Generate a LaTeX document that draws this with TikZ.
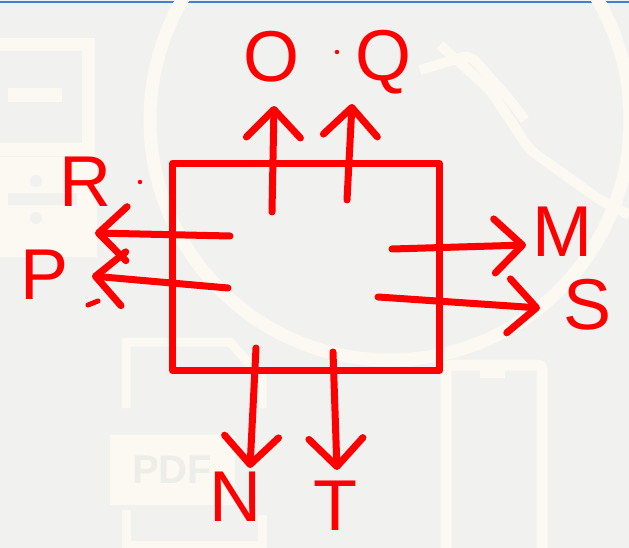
\documentclass[tikz,border=0pt]{standalone}
\usepackage{fontspec}
\setmainfont{Liberation Sans}
\usetikzlibrary{arrows.meta}
\definecolor{bg}{HTML}{F1F1EF}
\definecolor{wm}{HTML}{FBF9F1}
\definecolor{wmtext}{HTML}{EDEDEA}
\definecolor{ink}{HTML}{FF0000}
\definecolor{topline}{HTML}{4A7CCB}
\begin{document}
\begin{tikzpicture}[x=1pt,y=-1pt,
  inkline/.style={draw=ink, line width=7pt, line cap=round, line join=round},
  arr/.style={inkline, -{Straight Barb[length=28pt,width=54pt,round]}},
  lbl/.style={text=ink, font=\fontsize{72}{72}\selectfont, inner sep=0pt},
  wmark/.style={draw=wm, line width=13pt},
  wfill/.style={fill=wm, draw=none}]
% background and margins
\fill[bg] (0,0) rectangle (629,548);
\useasboundingbox (0,0) rectangle (629,548);
\draw[topline, line width=1.5pt] (0,2) -- (629,2);
% faint watermark
\draw[wmark] (390,120) circle[radius=240];
\draw[wmark] (-10,45) rectangle (88,150);
\fill[wm] (8,88) rectangle (62,102);
\fill[wm] (0,157) rectangle (97,257);
\fill[bg] (8,193) rectangle (77,205);
\fill[bg] (36,181) circle[radius=6];
\fill[bg] (36,218) circle[radius=6];
\draw[wmark, line width=9pt] (126,408) -- (126,342) -- (230,342) -- (262,378) -- (262,408);
\fill[wm] (110,435) rectangle (235,505);
\node[text=wmtext, font=\bfseries\fontsize{40}{40}\selectfont] (pdf) at (172,470) {PDF};
\draw[wmark, line width=9pt] (126,510) -- (126,545) -- (262,545) -- (262,515);
\draw[wmark, line width=11pt, rounded corners=4pt] (446,365) rectangle (542,560);
\fill[wm] (480,368) rectangle (505,378);
\draw[wmark, line width=10pt, rounded corners=8pt] (440,45) -- (490,90) -- (530,150) -- (600,200) -- (629,215);
\draw[wmark, line width=10pt, rounded corners=8pt] (420,70) -- (470,55) -- (510,100) -- (525,120);
% box
\node[inkline, draw, rectangle, minimum width=267pt, minimum height=207pt, inner sep=0pt] (box) at (306,267) {};
% arrows
\coordinate (o0) at (272,212); \coordinate (o1) at (274,106);
\coordinate (q0) at (347,200); \coordinate (q1) at (352,104);
\coordinate (r0) at (230,236); \coordinate (r1) at (95,233);
\coordinate (p0) at (228,288); \coordinate (p1) at (92,276);
\coordinate (m0) at (392,249); \coordinate (m1) at (526,245);
\coordinate (s0) at (378,297); \coordinate (s1) at (540,308);
\coordinate (n0) at (256,348); \coordinate (n1) at (250,468);
\coordinate (t0) at (333,352); \coordinate (t1) at (337,470);
\draw[arr] (o0) -- (o1);
\draw[arr] (q0) -- (q1);
\draw[arr] (r0) -- (r1);
\draw[arr] (p0) -- (p1);
\draw[arr] (m0) -- (m1);
\draw[arr] (s0) -- (s1);
\draw[arr] (n0) -- (n1);
\draw[arr] (t0) -- (t1);
% labels
\node[lbl] (lO) at (271,57) {O};
\node[lbl] (lQ) at (383,62) {Q};
\node[lbl] (lR) at (85,182) {R};
\node[lbl] (lP) at (45,275) {P};
\node[lbl] (lM) at (562,232) {M};
\node[lbl] (lS) at (588,305) {S};
\node[lbl] (lN) at (235,497) {N};
\node[lbl] (lT) at (335,506) {T};
% stray marks
\fill[ink] (337,52) circle[radius=2.2];
\fill[ink] (140,182) circle[radius=2.2];
\draw[inkline, line width=5pt] (88,305) -- (98,301);
\end{tikzpicture}
\end{document}
